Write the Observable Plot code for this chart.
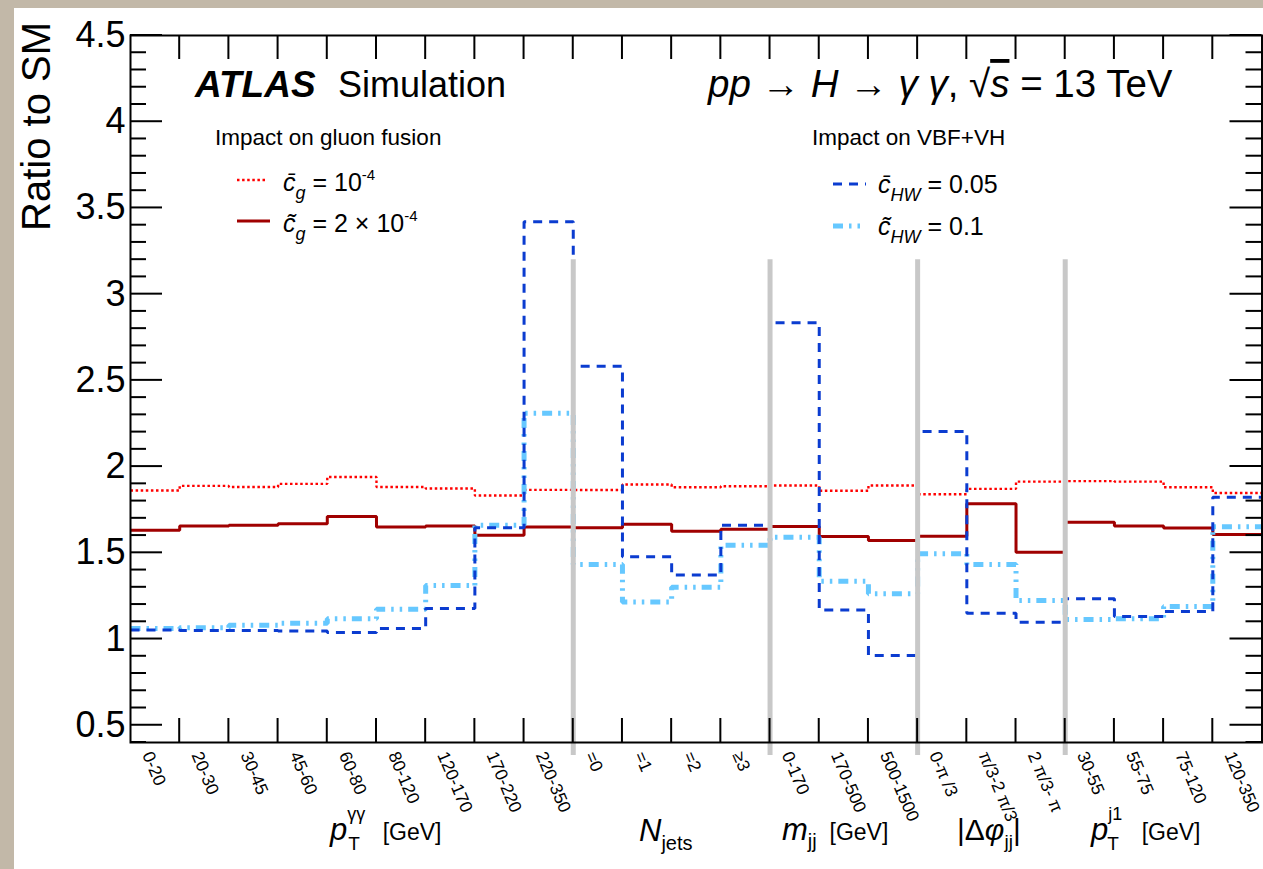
<!DOCTYPE html>
<html><head><meta charset="utf-8">
<script src="https://cdn.jsdelivr.net/npm/d3@7"></script>
<script src="https://cdn.jsdelivr.net/npm/@observablehq/plot@0.6"></script>
<style>
html,body{margin:0;padding:0;width:1263px;height:869px;overflow:hidden;background:#c2b8a8;}
#paper{position:absolute;left:14px;top:8px;right:0;bottom:0;background:#fff;}
#chart{position:absolute;left:0;top:0;}
</style></head><body><div id="paper"></div><div id="chart"></div>
<script>
// ---- data ----
const binLabels = ["0-20","20-30","30-45","45-60","60-80","80-120","120-170","170-220","220-350",
  "=0","=1","=2","≥3",
  "0-170","170-500","500-1500",
  "0-π /3","π/3-2 π/3","2 π/3- π",
  "30-55","55-75","75-120","120-350"];
const sectionSizes = [9, 4, 3, 3, 4];
const cgBar    = [1.861,1.888,1.882,1.900,1.940,1.882,1.873,1.832,1.865, 1.864,1.896,1.880,1.886, 1.890,1.860,1.890, 1.840,1.871,1.913, 1.916,1.913,1.880,1.847];
const cgTilde  = [1.631,1.655,1.660,1.668,1.710,1.650,1.656,1.602,1.650, 1.646,1.666,1.625,1.636, 1.652,1.595,1.571, 1.596,1.784,1.503, 1.677,1.656,1.644,1.606];
const cHWBar   = [1.053,1.049,1.049,1.046,1.038,1.061,1.177,1.646,3.420, 2.582,1.477,1.371,1.660, 2.834,1.168,0.904, 2.204,1.149,1.097, 1.234,1.130,1.160,1.822];
const cHWTilde = [1.061,1.065,1.080,1.092,1.117,1.173,1.310,1.660,2.310, 1.432,1.215,1.300,1.544, 1.591,1.335,1.263, 1.494,1.432,1.223, 1.114,1.118,1.188,1.651];
const yTicks = [0.5,1,1.5,2,2.5,3,3.5,4,4.5];

const FONT = "'Liberation Sans', Arial, Helvetica, sans-serif";
const nb = binLabels.length;
const steps = vals => vals.flatMap((v,i)=>[{x:i,y:v},{x:i+1,y:v}]);
const separators = sectionSizes.slice(0,-1).map((s,i)=>d3.sum(sectionSizes.slice(0,i+1)));

const series = [
  {vals: cgBar,    stroke:"#ff0000", w:2.4, dash:"2.5,2.6"},
  {vals: cgTilde,  stroke:"#a00000", w:3,   dash:null},
  {vals: cHWTilde, stroke:"#66c8ff", w:5,   dash:"10,6,2.5,6,2.5,6"},
  {vals: cHWBar,   stroke:"#0b3cd0", w:3,   dash:"9,7"}
];

const plot = Plot.plot({
  width: 1263, height: 869,
  marginLeft: 130, marginRight: 1.5, marginTop: 35, marginBottom: 127,
  style: {background: "transparent", fontFamily: FONT, overflow: "visible", color:"black"},
  x: {domain: [0, nb]},
  y: {domain: [0.4, 4.5]},
  marks: [
    ...series.map(s => Plot.line(steps(s.vals), {x:"x", y:"y", stroke:s.stroke, strokeWidth:s.w, strokeDasharray:s.dash, strokeLinejoin:"miter", strokeLinecap:"butt"})),
    Plot.ruleX(separators, {x: d=>d, y1: 0.325, y2: 3.2, stroke:"#c8c8c8", strokeWidth:5}),
    Plot.frame({stroke:"black", strokeWidth:2}),
    Plot.axisY({ticks: yTicks, tickSize: 0, tickPadding: 5, fontSize: 36, label: null, tickFormat: d => String(d)}),
    Plot.axisX({ticks: d3.range(nb).map(i=>i+0.5), tickSize: 0, tickPadding: 10, tickRotate: 67, fontSize: 17.5, dx: -8, label: null, tickFormat: v => binLabels[Math.floor(v)]})
  ]
});
document.getElementById("chart").appendChild(plot);

const svg = d3.select(plot);
const xs = plot.scale("x"), ys = plot.scale("y");
const X0 = xs.apply(0), X1 = xs.apply(nb), Y0 = ys.apply(0.4), Y1 = ys.apply(4.5);
const tg = svg.append("g").attr("stroke","black").attr("stroke-width",2);
// y ticks (both sides)
for (let k = 4; k <= 45; k++) {
  const v = k/10, major = k % 5 === 0, len = major ? 32 : 16, y = ys.apply(v);
  tg.append("line").attr("x1",X0).attr("x2",X0+len).attr("y1",y).attr("y2",y);
  tg.append("line").attr("x1",X1).attr("x2",X1-len).attr("y1",y).attr("y2",y);
}
// x ticks at bin boundaries
for (let i = 1; i < nb; i++) {
  const x = xs.apply(i);
  tg.append("line").attr("x1",x).attr("x2",x).attr("y1",Y1).attr("y2",Y1+24);
  tg.append("line").attr("x1",x).attr("x2",x).attr("y1",Y0).attr("y2",Y0-24);
}

// text helper: parts [{t, i, b, size, shift, over}]
function rich(x, y, parts, base, opts={}) {
  const t = svg.append("text").attr("x",x).attr("y",y).attr("font-family",FONT).attr("font-size",base)
    .attr("fill","black").attr("text-anchor", opts.anchor || "start");
  if (opts.transform) t.attr("transform",opts.transform);
  let cur = 0;
  for (const p of parts) {
    const sh = p.shift || 0;
    const ts = t.append("tspan").text(p.t).attr("dy", sh - cur);
    cur = sh;
    if (p.i) ts.attr("font-style","italic");
    if (p.b) ts.attr("font-weight","bold");
    if (p.size) ts.attr("font-size", p.size);
    if (p.over) ts.attr("text-decoration","overline");
    if (p.dx) ts.attr("dx", p.dx);
  }
  return t;
}

// headers
rich(195, 97, [{t:"ATLAS", b:true, i:true}], 37);
rich(338, 97, [{t:"Simulation"}], 36);
rich(708, 97, [{t:"pp", i:true},{t:" → "},{t:"H", i:true},{t:" → "},{t:"γ γ", i:true},{t:", √"},{t:"s", i:true, over:true},{t:" = 13 TeV"}], 38.5);
rich(215, 145, [{t:"Impact on gluon fusion"}], 22.5);
rich(812, 145, [{t:"Impact on VBF+VH"}], 22.5);

// legend samples
const lg = [
  {s: series[0], x1:237, x2:266, y:180},
  {s: series[1], x1:237, x2:270, y:221},
  {s: series[3], x1:833, x2:866, y:184},
  {s: series[2], x1:833, x2:866, y:226}
];
for (const l of lg) {
  svg.append("line").attr("x1",l.x1).attr("x2",l.x2).attr("y1",l.y).attr("y2",l.y)
    .attr("stroke",l.s.stroke).attr("stroke-width",l.s.w).attr("stroke-dasharray",l.s.dash);
}
rich(283, 191, [{t:"c\u0304", i:true},{t:"g", i:true, size:18, shift:8},{t:" = 10", shift:0},{t:"-4", size:15, shift:-11}], 25);
rich(283, 232, [{t:"c\u0303", i:true},{t:"g", i:true, size:18, shift:8},{t:" = 2 × 10", shift:0},{t:"-4", size:15, shift:-11}], 25);
rich(878, 193, [{t:"c\u0304", i:true},{t:"HW", i:true, size:18, shift:8},{t:" = 0.05", shift:0}], 25);
rich(878, 235, [{t:"c\u0303", i:true},{t:"HW", i:true, size:18, shift:8},{t:" = 0.1", shift:0}], 25);

// y label
rich(0, 0, [{t:"Ratio to SM"}], 40, {anchor:"end", transform:"translate(50,22) rotate(-90)"});

// group titles
rich(330, 840, [{t:"p", i:true, size:31},{t:"γγ", size:18, shift:-20},{t:"T", size:19, shift:10, dx:-17},{t:"  [GeV]", shift:0, dx:10}], 23);
rich(639, 841, [{t:"N", i:true, size:31},{t:"jets", size:20, shift:9}], 23);
rich(782, 840, [{t:"m", i:true, size:31},{t:"jj", size:20, shift:8},{t:"  [GeV]", shift:0}], 23);
rich(957, 840, [{t:"|Δ", size:30},{t:"φ", i:true, size:30},{t:"jj", size:19, shift:8},{t:"|", size:30, shift:0}], 23);
rich(1091, 840, [{t:"p", i:true, size:31},{t:"j1", size:18, shift:-20},{t:"T", size:19, shift:10, dx:-15},{t:"  [GeV]", shift:0, dx:10}], 23);
</script></body></html>
